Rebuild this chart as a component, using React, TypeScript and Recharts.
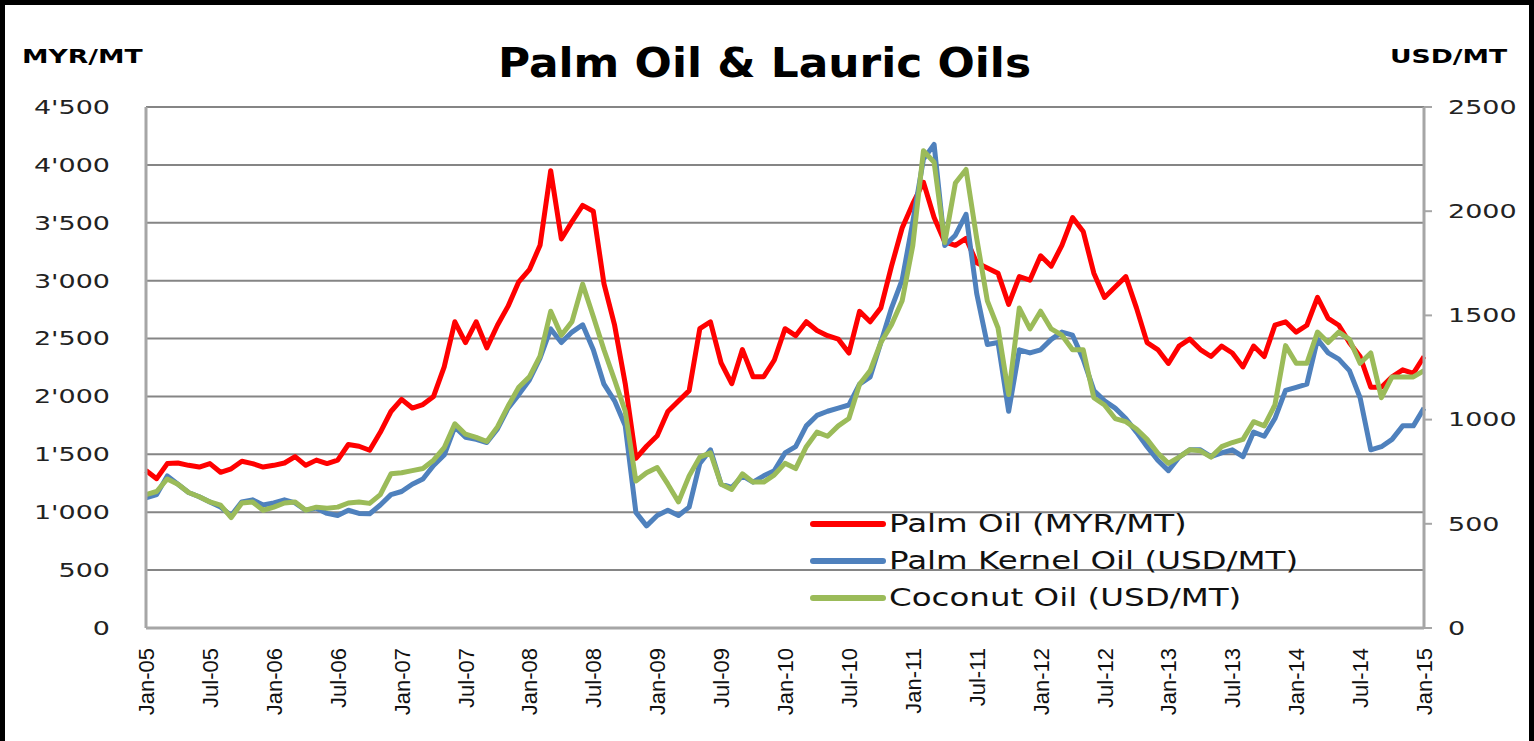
import React from "react";
import {
  LineChart,
  Line,
  XAxis,
  YAxis,
  CartesianGrid,
} from "recharts";

// monthly observations, Jan-05 .. Jan-15
const palmOil = [
  1360, 1290, 1420, 1425, 1405, 1390, 1420, 1345, 1375, 1440, 1420, 1390,
  1405, 1425, 1480, 1405, 1450, 1420, 1450, 1585, 1570, 1535, 1690, 1870,
  1975, 1900, 1930, 2000, 2255, 2645, 2465, 2645, 2420, 2615, 2780, 2990,
  3095, 3305, 3950, 3360, 3510, 3650, 3600, 2975, 2615, 2110, 1465, 1570,
  1660, 1870, 1960, 2050, 2585, 2645, 2290, 2110, 2405, 2170, 2170, 2315,
  2585, 2525, 2645, 2570, 2525, 2495, 2375, 2735, 2645, 2765, 3125, 3455,
  3665, 3850, 3545, 3335, 3305, 3365, 3155, 3110, 3065, 2795, 3035, 3005,
  3215, 3125, 3305, 3545, 3425, 3065, 2855, 2945, 3035, 2765, 2465, 2405,
  2285, 2435, 2495, 2405, 2345, 2435, 2375, 2255, 2435, 2345, 2615, 2645,
  2555, 2615, 2855, 2675, 2615, 2465, 2345, 2080, 2080, 2170, 2230, 2200,
  2345,
];

const palmKernelOil = [
  625, 640, 730, 690, 650, 630, 605, 580, 540, 605, 615, 590,
  600, 615, 600, 565, 575, 550, 540, 565, 550, 548, 590, 640,
  655, 690, 715, 780, 830, 965, 915, 905, 890, 955, 1055, 1120,
  1190, 1295, 1435, 1370, 1420, 1455, 1335, 1170, 1090, 970, 555, 490,
  540, 565, 540, 580, 790, 855, 690, 675, 730, 700, 730, 755,
  840, 870, 970, 1020, 1040, 1055, 1070, 1170, 1205, 1370, 1535, 1670,
  1950, 2250, 2320, 1835, 1885, 1985, 1605, 1360, 1370, 1040, 1335, 1320,
  1335, 1385, 1420, 1405, 1290, 1140, 1090, 1055, 1005, 940, 870, 805,
  755, 820, 855, 855, 822, 840, 855, 822, 940, 920, 1005, 1140,
  1155, 1170, 1385, 1320, 1290, 1235, 1105, 855, 870, 905, 970, 970,
  1055,
];

const coconutOil = [
  640, 655, 715, 690, 650, 630, 605, 590, 530, 600, 605, 565,
  580, 600, 605, 565, 580, 575, 580, 600, 605, 598, 640, 740,
  745, 755, 765, 805, 865, 980, 930, 915, 895, 965, 1065, 1155,
  1205, 1305, 1520, 1405, 1470, 1650, 1495, 1335, 1190, 1040, 705, 745,
  770, 690, 605, 730, 820, 840, 690, 665, 740, 700, 700, 735,
  790, 765, 870, 940, 920, 970, 1005, 1170, 1235, 1370, 1455, 1570,
  1835, 2290, 2235, 1850, 2135, 2200, 1870, 1570, 1440, 1120, 1535, 1435,
  1520, 1435, 1405, 1335, 1335, 1105, 1070, 1005, 990, 955, 905, 840,
  790, 820, 855, 850, 820, 870, 890, 905, 990, 970, 1070, 1355,
  1270, 1270, 1420, 1370, 1420, 1385, 1270, 1320, 1105, 1205, 1205, 1205,
  1235,
];

const monthNames = ["Jan", "Feb", "Mar", "Apr", "May", "Jun", "Jul", "Aug", "Sep", "Oct", "Nov", "Dec"];
const leftTicks = [0, 500, 1000, 1500, 2000, 2500, 3000, 3500, 4000, 4500];
const rightTicks = [0, 500, 1000, 1500, 2000, 2500];

const months = palmOil.map((_, i) => {
  const yr = 5 + Math.floor(i / 12);
  return `${monthNames[i % 12]}-${String(yr).padStart(2, "0")}`;
});

const data = months.map((m, i) => ({
  month: m,
  palm: palmOil[i],
  pko: palmKernelOil[i],
  coco: coconutOil[i],
}));

const series = [
  { key: "palm", name: "Palm Oil (MYR/MT)", color: "#ff0000", axis: "left" },
  { key: "pko", name: "Palm Kernel Oil (USD/MT)", color: "#4f81bd", axis: "right" },
  { key: "coco", name: "Coconut Oil (USD/MT)", color: "#9bbb59", axis: "right" },
];

const font = "'DejaVu Sans', Verdana, sans-serif";
const fmtLeft = (v: number) =>
  v >= 1000 ? `${Math.floor(v / 1000)}'${String(v % 1000).padStart(3, "0")}` : `${v}`;

function LeftTick(props: any) {
  const { x, y, payload } = props;
  return (
    <g transform={`translate(${x - 28},${y})`}>
      <text transform="scale(1.42,1)" textAnchor="end" dy="0.36em" fontSize={19} fontFamily={font} fill="#222">
        {fmtLeft(payload.value)}
      </text>
    </g>
  );
}

function RightTick(props: any) {
  const { x, y, payload } = props;
  return (
    <g transform={`translate(${x + 14},${y})`}>
      <text transform="scale(1.42,1)" textAnchor="start" dy="0.36em" fontSize={19} fontFamily={font} fill="#222">
        {payload.value}
      </text>
    </g>
  );
}

function MonthTick(props: any) {
  const { x, y, payload } = props;
  return (
    <g transform={`translate(${x + 8},${y + 12}) rotate(-90)`}>
      <text textAnchor="end" fontSize={22} fontFamily="'Liberation Sans', Arial, sans-serif" fill="#111">
        {payload.value}
      </text>
    </g>
  );
}

function LegendBox() {
  return (
    <div style={{ position: "absolute", left: 804, top: 500, fontFamily: font }}>
      {series.map((s) => (
        <div key={s.key} style={{ display: "flex", alignItems: "center", height: 37 }}>
          <svg width={78} height={12}>
            <line x1={4} y1={6} x2={74} y2={6} stroke={s.color} strokeWidth={6} strokeLinecap="round" />
          </svg>
          <span style={{ fontSize: 25, color: "#111", transform: "scaleX(1.3)", transformOrigin: "left", whiteSpace: "nowrap", marginLeft: 2 }}>
            {s.name}
          </span>
        </div>
      ))}
    </div>
  );
}

export default function App() {
  return (
    <div
      style={{
        position: "absolute",
        left: 0,
        top: 0,
        width: 1534,
        height: 741,
        background: "#fff",
        boxSizing: "border-box",
        borderLeft: "5px solid #000",
        borderRight: "5px solid #000",
        borderTop: "5px solid #000",
        overflow: "hidden",
      }}
    >
      <div style={{ position: "absolute", left: -5, top: -5 }}>
        <LineChart width={1534} height={741} data={data} margin={{ top: 107, right: 10, bottom: 23, left: 10 }}>
          <CartesianGrid yAxisId="left" vertical={false} horizontal stroke="#858585" strokeWidth={2} />
          <XAxis
            dataKey="month"
            interval={5}
            height={90}
            tick={<MonthTick />}
            tickLine={false}
            axisLine={{ stroke: "#a6a6a6", strokeWidth: 3 }}
            padding={{ left: 0, right: 0 }}
          />
          <YAxis
            yAxisId="left"
            orientation="left"
            width={136}
            domain={[0, 4500]}
            ticks={leftTicks}
            tick={<LeftTick />}
            tickLine={false}
            axisLine={{ stroke: "#a6a6a6", strokeWidth: 3 }}
          />
          <YAxis
            yAxisId="right"
            orientation="right"
            width={100}
            domain={[0, 2500]}
            ticks={rightTicks}
            tick={<RightTick />}
            tickLine={{ stroke: "#a6a6a6", strokeWidth: 2 }}
            tickSize={8}
            axisLine={{ stroke: "#a6a6a6", strokeWidth: 3 }}
          />
          {series.map((s) => (
            <Line
              key={s.key}
              yAxisId={s.axis}
              dataKey={s.key}
              name={s.name}
              type="linear"
              stroke={s.color}
              strokeWidth={5}
              strokeLinejoin="round"
              dot={false}
              isAnimationActive={false}
            />
          ))}
        </LineChart>
      </div>
      <LegendBox />
      <div
        style={{
          position: "absolute",
          left: 493,
          top: 34,
          fontFamily: font,
          fontWeight: "bold",
          fontSize: 41,
          color: "#000",
          whiteSpace: "nowrap",
          transform: "scaleX(1.07)",
          transformOrigin: "left",
        }}
      >
        Palm Oil &amp; Lauric Oils
      </div>
      <div
        style={{
          position: "absolute",
          left: 17,
          top: 40,
          fontFamily: font,
          fontWeight: "bold",
          fontSize: 19,
          whiteSpace: "nowrap",
          transform: "scaleX(1.4)",
          transformOrigin: "left",
        }}
      >
        MYR/MT
      </div>
      <div
        style={{
          position: "absolute",
          left: 1385,
          top: 40,
          fontFamily: font,
          fontWeight: "bold",
          fontSize: 19,
          whiteSpace: "nowrap",
          transform: "scaleX(1.4)",
          transformOrigin: "left",
        }}
      >
        USD/MT
      </div>
    </div>
  );
}
